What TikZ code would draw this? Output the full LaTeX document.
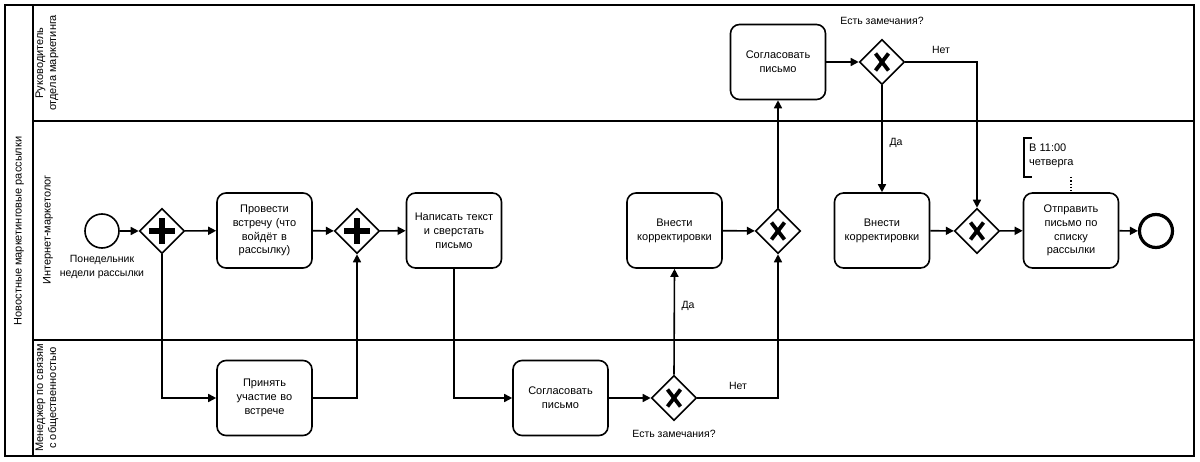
\documentclass[tikz,border=0pt]{standalone}
\usepackage{fontspec}
\setmainfont{Liberation Sans}
\usetikzlibrary{arrows.meta,shapes.geometric,calc}
\tikzset{
  frame/.style={line width=1.5pt},
  task/.style={draw,line width=1.6pt,rounded corners=9pt,minimum width=95pt,minimum height=75pt,align=center,font=\fontsize{11}{13.8}\selectfont,inner sep=2pt,text width=90pt},
  gw/.style={draw,diamond,line width=1.6pt,minimum width=45pt,minimum height=45pt,inner sep=0pt},
  flow/.style={line width=1.6pt,-{Triangle[length=8pt,width=8pt]}},
  lbl/.style={font=\fontsize{10.5}{13.5}\selectfont,align=center,inner sep=0pt},
  lane/.style={font=\fontsize{11}{13}\selectfont,align=center,rotate=90,inner sep=0pt},
}
\newcommand{\plusmark}[1]{\draw[line width=5.5pt] ($(#1)+(-13pt,0)$) -- ($(#1)+(13pt,0)$); \draw[line width=5.5pt] ($(#1)+(0,-13pt)$) -- ($(#1)+(0,13pt)$);}
\newcommand{\xmark}[1]{\draw[line width=3.8pt] ($(#1)+(-6.5pt,-8.5pt)$) -- ($(#1)+(6.5pt,8.5pt)$); \draw[line width=3.8pt] ($(#1)+(-6.5pt,8.5pt)$) -- ($(#1)+(6.5pt,-8.5pt)$);}
\begin{document}
\begin{tikzpicture}[x=1pt,y=-1pt]
\useasboundingbox (0,0) rectangle (1200,462);
% pool and lanes
\draw[frame] (5,5) rectangle (1194,456);
\draw[frame] (33,5) -- (33,456);
\draw[frame] (33,121) -- (1194,121);
\draw[frame] (33,340) -- (1194,340);
\node[lane] (pool) at (19,231) {Новостные маркетинговые рассылки};
\node[lane] (lane1) at (47,63) {Руководитель\\отдела маркетинга};
\node[lane] (lane2) at (48,230) {Интернет-маркетолог};
\node[lane] (lane3) at (47,398) {Менеджер по связям\\с общественностью};
% events
\node[draw,circle,line width=1.6pt,minimum size=34pt,inner sep=0pt] (start) at (102,231) {};
\node[lbl] (startlbl) at (102,267) {Понедельник\\недели рассылки};
\node[draw,circle,line width=3.2pt,minimum size=33pt,inner sep=0pt] (end) at (1156,231) {};
% gateways
\node[gw] (pg1) at (162,231) {};
\node[gw] (pg2) at (357,231) {};
\node[gw] (xg1) at (674,398) {};
\node[gw] (xg2) at (778,231) {};
\node[gw] (xg3) at (882,62) {};
\node[gw] (xg4) at (977,231) {};
\plusmark{pg1}
\plusmark{pg2}
\xmark{xg1}
\xmark{xg2}
\xmark{xg3}
\xmark{xg4}
% tasks
\node[task] (meet) at (264.5,230.5) {Провести\\встречу (что\\войдёт в\\рассылку)};
\node[task] (join) at (264.5,398) {Принять\\участие во\\встрече};
\node[task] (write) at (454,230.5) {Написать текст\\и сверстать\\письмо};
\node[task] (agree1) at (560.5,398) {Согласовать\\письмо};
\node[task] (fix1) at (674.5,230.5) {Внести\\корректировки};
\node[task] (agree2) at (778,62) {Согласовать\\письмо};
\node[task] (fix2) at (882,230.5) {Внести\\корректировки};
\node[task] (send) at (1071,230.5) {Отправить\\письмо по\\списку\\рассылки};
% labels
\node[lbl] (q1) at (674,434) {Есть замечания?};
\node[lbl] (q2) at (882,21) {Есть замечания?};
\node[lbl] (yes1) at (688,306) {Да};
\node[lbl] (no1) at (738,386) {Нет};
\node[lbl] (yes2) at (896,143) {Да};
\node[lbl] (no2) at (941,50) {Нет};
% annotation
\draw[line width=1.5pt] (1032,138) -- (1024,138) -- (1024,177) -- (1032,177);
\node[lbl,align=left,anchor=west,font=\fontsize{11}{14}\selectfont] (ann) at (1029,156) {В 11:00\\четверга};
\coordinate (annb) at (1071,177);
\draw[line width=1.3pt,dotted] (annb) -- (send.north);
% flows
\draw[flow] (start) -- (pg1);
\draw[flow] (pg1) -- (meet);
\draw[flow] (pg1.south) |- (join.west);
\draw[flow] (meet) -- (pg2);
\draw[flow] (join.east) -| (pg2.south);
\draw[flow] (pg2) -- (write);
\draw[flow] (write.south) |- (agree1.west);
\draw[flow] (agree1) -- (xg1);
\draw[flow] (xg1.north) -- (fix1.south);
\draw[flow] (xg1.east) -| (xg2.south);
\draw[flow] (fix1) -- (xg2);
\draw[flow] (xg2.north) -- (agree2.south);
\draw[flow] (agree2) -- (xg3);
\draw[flow] (xg3.south) -- (fix2.north);
\draw[flow] (xg3.east) -| (xg4.north);
\draw[flow] (fix2) -- (xg4);
\draw[flow] (xg4) -- (send);
\draw[flow] (send) -- (end);
\end{tikzpicture}
\end{document}
